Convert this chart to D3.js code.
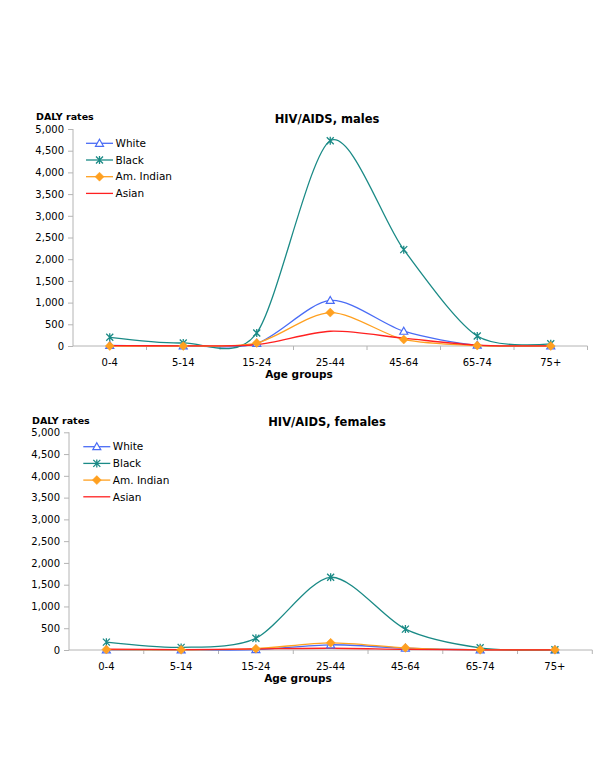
<!DOCTYPE html>
<html>
<head>
<meta charset="utf-8">
<script src="https://cdn.jsdelivr.net/npm/d3@7"></script>
<style>
  html, body { margin: 0; padding: 0; background: #fff; }
  svg { display: block; }
  text { font-family: "DejaVu Sans", Verdana, sans-serif; fill: #000; }
</style>
</head>
<body>
<script>
// ---- data ----
const ageGroups = ["0-4", "5-14", "15-24", "25-44", "45-64", "65-74", "75+"];
const seriesNames = ["White", "Black", "Am. Indian", "Asian"];
const yTicks = [0, 500, 1000, 1500, 2000, 2500, 3000, 3500, 4000, 4500, 5000];

const malesWhite    = [15, 5, 60, 1050, 340, 20, 5];
const malesBlack    = [200, 70, 300, 4730, 2220, 230, 50];
const malesAmIndian = [0, 0, 70, 770, 150, 10, 0];
const malesAsian    = [10, 5, 30, 340, 180, 20, 5];

const femalesWhite    = [5, 2, 10, 120, 40, 3, 0];
const femalesBlack    = [180, 60, 270, 1670, 480, 50, 5];
const femalesAmIndian = [10, 5, 30, 165, 50, 5, 5];
const femalesAsian    = [20, 10, 25, 40, 15, 3, 1];

const titles = ["HIV/AIDS, males", "HIV/AIDS, females"];

// ---- styles ----
const colors = { "White": "#4a6cf5", "Black": "#1a8a86", "Am. Indian": "#ffa020", "Asian": "#ff2020" };
const markers = { "White": "triangle", "Black": "asterisk", "Am. Indian": "diamond", "Asian": "none" };

const svg = d3.select("body").append("svg").attr("width", 600).attr("height", 777);

const panels = [
  { title: titles[0], data: [malesWhite, malesBlack, malesAmIndian, malesAsian],
    left: 73, right: 587.5, top: 129, bottom: 346,
    titleX: 327, titleY: 123, dalyX: 36, dalyY: 120,
    legX: 86, legY: 143.3, tickLabelY: 365.5, axisTitleX: 299, axisTitleY: 378 },
  { title: titles[1], data: [femalesWhite, femalesBlack, femalesAmIndian, femalesAsian],
    left: 69, right: 592.3, top: 432.3, bottom: 650,
    titleX: 327, titleY: 426, dalyX: 32, dalyY: 423.5,
    legX: 83.3, legY: 446.7, tickLabelY: 669.5, axisTitleX: 298, axisTitleY: 681.5 }
];

function drawMarker(g, type, x, y, color) {
  if (type === "triangle") {
    g.append("path")
      .attr("d", `M${x},${y-4}L${x+4},${y+3}L${x-4},${y+3}Z`)
      .attr("fill", "#fff").attr("stroke", color).attr("stroke-width", 1.2);
  } else if (type === "asterisk") {
    const s = 3.5;
    g.append("path")
      .attr("d", `M${x-s},${y-s}L${x+s},${y+s}M${x-s},${y+s}L${x+s},${y-s}M${x},${y-s-0.5}L${x},${y+s+0.5}`)
      .attr("stroke", color).attr("stroke-width", 1.3).attr("fill", "none");
  } else if (type === "diamond") {
    const s = 4.5;
    g.append("path")
      .attr("d", `M${x},${y-s}L${x+s},${y}L${x},${y+s}L${x-s},${y}Z`)
      .attr("fill", color).attr("stroke", color).attr("stroke-width", 0.5);
  }
}

panels.forEach(p => {
  const g = svg.append("g");
  const x = d3.scaleBand().domain(ageGroups).range([p.left, p.right]).padding(0);
  const y = d3.scaleLinear().domain([0, 5000]).range([p.bottom, p.top]);

  // y axis
  const yAxis = g.append("g").attr("transform", `translate(${p.left},0)`)
    .call(d3.axisLeft(y).tickValues(yTicks).tickSize(5).tickPadding(4).tickFormat(d3.format(",")));
  yAxis.selectAll("path, line").attr("stroke", "#b4b4b4");
  yAxis.select(".domain").attr("d", `M0,${p.bottom}V${p.top}`);
  yAxis.selectAll("text").attr("font-family", "'DejaVu Sans Condensed', 'DejaVu Sans', sans-serif")
    .attr("font-size", 10).attr("fill", "#000");

  // x axis
  const xAxis = g.append("g").attr("transform", `translate(0,${p.bottom})`)
    .call(d3.axisBottom(x).tickSize(0).tickPadding(0));
  xAxis.select(".domain").attr("stroke", "#b4b4b4").attr("d", `M${p.left},0H${p.right}`);
  xAxis.selectAll("text").remove();
  const bounds = ageGroups.map(a => x(a) + x.bandwidth());
  g.append("g").selectAll("line").data(bounds).join("line")
    .attr("x1", d => d).attr("x2", d => d)
    .attr("y1", p.bottom).attr("y2", p.bottom + 4)
    .attr("stroke", "#b4b4b4");
  g.append("g").selectAll("text").data(ageGroups).join("text")
    .attr("x", d => x(d) + x.bandwidth() / 2).attr("y", p.tickLabelY)
    .attr("text-anchor", "middle")
    .attr("font-family", "'DejaVu Sans Condensed', 'DejaVu Sans', sans-serif")
    .attr("font-size", 10).text(d => d);

  // titles
  g.append("text").attr("x", p.titleX).attr("y", p.titleY).attr("text-anchor", "middle")
    .attr("font-weight", "bold").attr("font-size", 11.5).text(p.title);
  g.append("text").attr("x", p.dalyX).attr("y", p.dalyY)
    .attr("font-weight", "bold").attr("font-size", 9.5).text("DALY rates");
  g.append("text").attr("x", p.axisTitleX).attr("y", p.axisTitleY).attr("text-anchor", "middle")
    .attr("font-weight", "bold").attr("font-size", 10.5).text("Age groups");

  const line = d3.line()
    .x((d, i) => x(ageGroups[i]) + x.bandwidth() / 2)
    .y(d => y(d))
    .curve(d3.curveCardinal.tension(0.15));

  const order = [0, 1, 2, 3];
  order.forEach(si => {
    const name = seriesNames[si];
    g.append("path").datum(p.data[si]).attr("d", line)
      .attr("fill", "none").attr("stroke", colors[name]).attr("stroke-width", 1.3);
  });
  order.forEach(si => {
    const name = seriesNames[si];
    const mg = g.append("g");
    p.data[si].forEach((v, i) => drawMarker(mg, markers[name], x(ageGroups[i]) + x.bandwidth() / 2, y(v), colors[name]));
  });

  // legend
  const leg = g.append("g");
  seriesNames.forEach((name, i) => {
    const ly = p.legY + i * 16.7;
    leg.append("line").attr("x1", p.legX).attr("x2", p.legX + 27).attr("y1", ly).attr("y2", ly)
      .attr("stroke", colors[name]).attr("stroke-width", 1.3);
    drawMarker(leg, markers[name], p.legX + 13.5, ly, colors[name]);
    leg.append("text").attr("x", p.legX + 29.5).attr("y", ly).attr("dy", "0.36em")
      .attr("font-size", 10.5).text(name);
  });
});
</script>
</body>
</html>
